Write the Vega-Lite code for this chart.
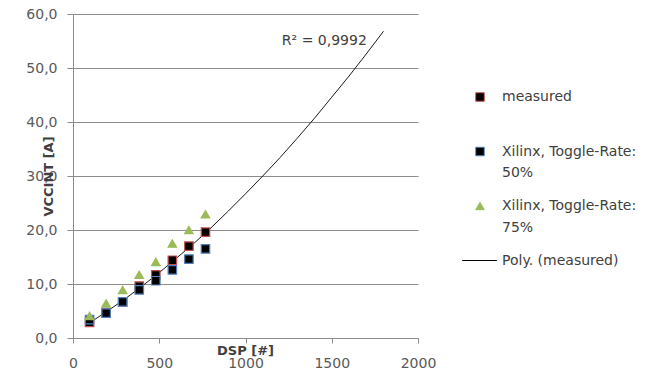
{
  "$schema": "https://vega.github.io/schema/vega-lite/v6.json",
  "width": 345,
  "height": 324,
  "autosize": {"type": "none"},
  "padding": {"left": 73, "top": 14, "right": 250, "bottom": 45},
  "background": "white",
  "config": {"font": "DejaVu Sans", "view": {"stroke": null}, "style": {"guide-label": {"lineHeight": 21.5}}},
  "datasets": {
    "curve": [
      {"dsp": 96, "current": 2.8}, {"dsp": 200, "current": 5.0}, {"dsp": 300, "current": 7.2},
      {"dsp": 400, "current": 9.6}, {"dsp": 500, "current": 12.1}, {"dsp": 600, "current": 14.8},
      {"dsp": 700, "current": 17.5}, {"dsp": 800, "current": 20.4}, {"dsp": 900, "current": 23.5},
      {"dsp": 1000, "current": 26.7}, {"dsp": 1100, "current": 30.0}, {"dsp": 1200, "current": 33.4},
      {"dsp": 1300, "current": 37.0}, {"dsp": 1400, "current": 40.7}, {"dsp": 1500, "current": 44.6},
      {"dsp": 1600, "current": 48.5}, {"dsp": 1700, "current": 52.6}, {"dsp": 1800, "current": 56.8}
    ],
    "points": [
      {"series": "measured", "dsp": 96, "current": 2.9},
      {"series": "measured", "dsp": 192, "current": 4.7},
      {"series": "measured", "dsp": 288, "current": 6.7},
      {"series": "measured", "dsp": 384, "current": 9.6},
      {"series": "measured", "dsp": 480, "current": 11.7},
      {"series": "measured", "dsp": 576, "current": 14.4},
      {"series": "measured", "dsp": 672, "current": 17.0},
      {"series": "measured", "dsp": 768, "current": 19.6},
      {"series": "Xilinx, Toggle-Rate: 50%", "dsp": 96, "current": 3.4},
      {"series": "Xilinx, Toggle-Rate: 50%", "dsp": 192, "current": 4.6},
      {"series": "Xilinx, Toggle-Rate: 50%", "dsp": 288, "current": 6.7},
      {"series": "Xilinx, Toggle-Rate: 50%", "dsp": 384, "current": 8.9},
      {"series": "Xilinx, Toggle-Rate: 50%", "dsp": 480, "current": 10.6},
      {"series": "Xilinx, Toggle-Rate: 50%", "dsp": 576, "current": 12.6},
      {"series": "Xilinx, Toggle-Rate: 50%", "dsp": 672, "current": 14.6},
      {"series": "Xilinx, Toggle-Rate: 50%", "dsp": 768, "current": 16.5},
      {"series": "Xilinx, Toggle-Rate: 75%", "dsp": 96, "current": 4.1},
      {"series": "Xilinx, Toggle-Rate: 75%", "dsp": 192, "current": 6.4},
      {"series": "Xilinx, Toggle-Rate: 75%", "dsp": 288, "current": 8.9},
      {"series": "Xilinx, Toggle-Rate: 75%", "dsp": 384, "current": 11.7},
      {"series": "Xilinx, Toggle-Rate: 75%", "dsp": 480, "current": 14.1},
      {"series": "Xilinx, Toggle-Rate: 75%", "dsp": 576, "current": 17.5},
      {"series": "Xilinx, Toggle-Rate: 75%", "dsp": 672, "current": 20.0},
      {"series": "Xilinx, Toggle-Rate: 75%", "dsp": 768, "current": 22.9}
    ],
    "note": [{"dsp": 1457, "current": 55, "text": "R² = 0,9992"}]
  },
  "layer": [
    {
      "data": {"name": "curve"},
      "mark": {"type": "line", "color": "#1a1a1a", "strokeWidth": 1},
      "encoding": {
        "x": {
          "field": "dsp", "type": "quantitative",
          "scale": {"domain": [0, 2000], "nice": false},
          "axis": {
            "title": "DSP [#]", "values": [0, 500, 1000, 1500, 2000], "format": "d",
            "grid": false, "domainColor": "#8c8c8c", "tickColor": "#8c8c8c", "tickSize": 5,
            "labelFont": "DejaVu Sans", "labelFontSize": 14, "labelColor": "#595959", "labelPadding": 13,
            "labelFlush": false,
            "titleFont": "DejaVu Sans", "titleFontSize": 13, "titleFontWeight": "bold", "titleColor": "#404040",
            "titleX": 172, "titleY": 12, "titleBaseline": "middle", "titleAnchor": null
          }
        },
        "y": {
          "field": "current", "type": "quantitative",
          "scale": {"domain": [0, 60], "nice": false},
          "axis": {
            "title": "VCCINT [A]", "values": [0, 10, 20, 30, 40, 50, 60],
            "labelExpr": "replace(format(datum.value, '.1f'), '.', ',')",
            "grid": true, "gridColor": "#8c8c8c", "gridWidth": 1,
            "domainColor": "#8c8c8c", "tickColor": "#8c8c8c", "tickSize": 6,
            "labelFont": "DejaVu Sans", "labelFontSize": 14, "labelColor": "#595959", "labelPadding": 10,
            "titleFont": "DejaVu Sans", "titleFontSize": 13, "titleFontWeight": "bold", "titleColor": "#404040",
            "titleX": -25, "titleY": 162, "titleAngle": -90, "titleBaseline": "middle", "titleAlign": "center"
          }
        }
      }
    },
    {
      "data": {"name": "points"},
      "mark": {"type": "point", "filled": true, "strokeWidth": 1.2, "opacity": 1},
      "encoding": {
        "x": {"field": "dsp", "type": "quantitative"},
        "y": {"field": "current", "type": "quantitative"},
        "fill": {
          "field": "series", "type": "nominal",
          "scale": {
            "domain": ["measured", "Xilinx, Toggle-Rate: 50%", "Xilinx, Toggle-Rate: 75%", "Poly. (measured)"],
            "range": ["#000000", "#000000", "#9bbb59", "#000000"]
          },
          "legend": {
            "title": null, "orient": "none", "legendX": 400, "legendY": 76, "padding": 0,
            "symbolStrokeWidth": 1,
            "labelFont": "DejaVu Sans", "labelFontSize": 14, "labelColor": "#404040",
            "labelOffset": 15, "labelLimit": 250, "rowPadding": 18.5,
            "labelExpr": "datum.value == 'measured' ? ['measured', ''] : datum.value == 'Poly. (measured)' ? ['Poly. (measured)'] : datum.value == 'Xilinx, Toggle-Rate: 50%' ? ['Xilinx, Toggle-Rate:', '50%'] : ['Xilinx, Toggle-Rate:', '75%']"
          }
        },
        "stroke": {
          "field": "series", "type": "nominal",
          "scale": {
            "domain": ["measured", "Xilinx, Toggle-Rate: 50%", "Xilinx, Toggle-Rate: 75%", "Poly. (measured)"],
            "range": ["#c0504d", "#4f81bd", "#9bbb59", "#000000"]
          }
        },
        "shape": {
          "field": "series", "type": "nominal",
          "scale": {
            "domain": ["measured", "Xilinx, Toggle-Rate: 50%", "Xilinx, Toggle-Rate: 75%", "Poly. (measured)"],
            "range": ["square", "square", "triangle-up", "M-4.2,0H4.0"]
          }
        },
        "size": {
          "field": "series", "type": "nominal",
          "scale": {
            "domain": ["measured", "Xilinx, Toggle-Rate: 50%", "Xilinx, Toggle-Rate: 75%", "Poly. (measured)"],
            "range": [72, 72, 150, 72]
          }
        }
      }
    },
    {
      "data": {"name": "note"},
      "mark": {"type": "text", "font": "DejaVu Sans", "fontSize": 14, "color": "#404040", "align": "center", "baseline": "middle"},
      "encoding": {
        "x": {"field": "dsp", "type": "quantitative"},
        "y": {"field": "current", "type": "quantitative"},
        "text": {"field": "text"}
      }
    }
  ]
}
